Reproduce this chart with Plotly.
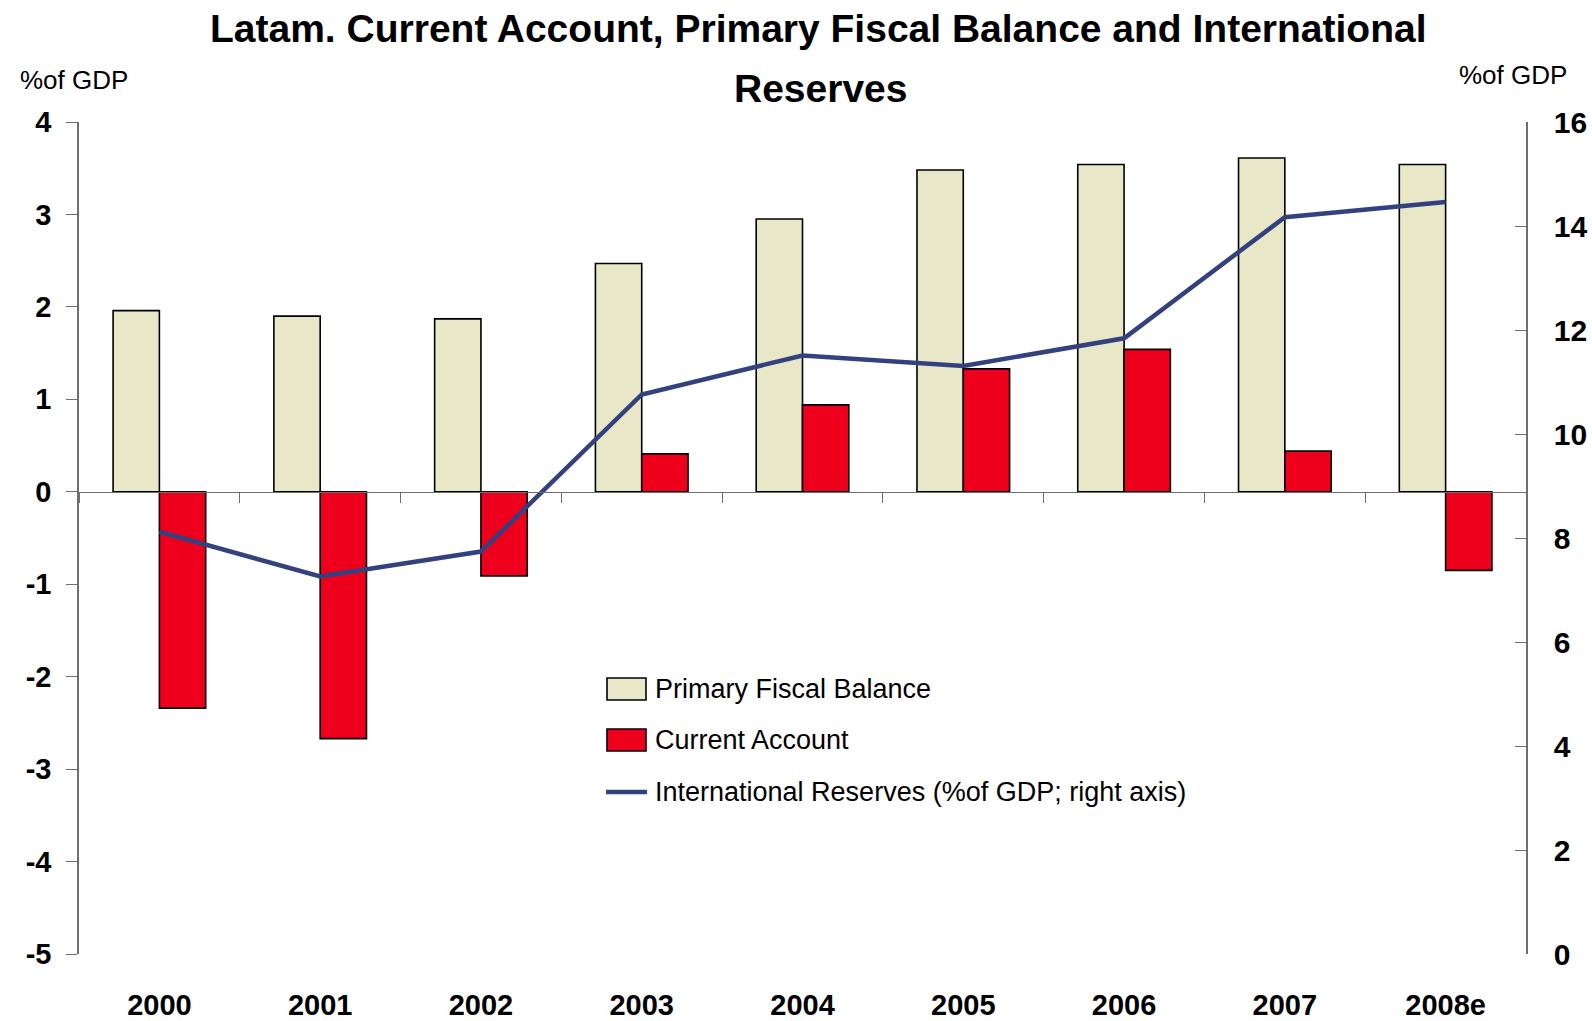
import plotly.graph_objects as go

# Latin America: current account, primary fiscal balance (% of GDP, left axis)
# and international reserves (% of GDP, right axis)
years = ["2000", "2001", "2002", "2003", "2004", "2005", "2006", "2007", "2008e"]
primary_fiscal_balance = [1.96, 1.90, 1.87, 2.47, 2.95, 3.48, 3.54, 3.61, 3.54]
current_account = [-2.34, -2.67, -0.91, 0.41, 0.94, 1.33, 1.54, 0.44, -0.85]
international_reserves = [8.12, 7.26, 7.74, 10.76, 11.51, 11.31, 11.84, 14.17, 14.46]

left_ticks = [-5, -4, -3, -2, -1, 0, 1, 2, 3, 4]
left_tick_text = ["-5", "-4", "-3", "-2", "-1", "0", "1", "2", "3", "4"]
right_ticks = [0, 2, 4, 6, 8, 10, 12, 14, 16]

FONT = "Liberation Sans, Arial, Helvetica, sans-serif"
BEIGE = "#E8E8C8"
RED = "#EE001C"
NAVY = "#34417F"
AXIS_GREY = "#6E6E6E"

W, H = 1592, 1021
ML, MR, MT, MB = 79, 66, 122, 67
PW, PH = W - ML - MR, H - MT - MB


def px_x(x):
    return (x - ML) / PW


def px_y(y):
    return (H - MB - y) / PH


fig = go.Figure()

fig.add_trace(go.Bar(
    x=years, y=primary_fiscal_balance, name="Primary Fiscal Balance",
    marker=dict(color=BEIGE, line=dict(color="black", width=1.6)),
    xaxis="x", yaxis="y", showlegend=False,
))
fig.add_trace(go.Bar(
    x=years, y=current_account, name="Current Account",
    marker=dict(color=RED, line=dict(color="black", width=1.6)),
    xaxis="x", yaxis="y", showlegend=False,
))
fig.add_trace(go.Scatter(
    x=years, y=international_reserves, mode="lines",
    name="International Reserves (%of GDP; right axis)",
    line=dict(color=NAVY, width=4.5),
    xaxis="x", yaxis="y2", showlegend=False,
))
# helper trace that carries the category axis drawn along the zero line
fig.add_trace(go.Scatter(
    x=years, y=[0] * len(years), mode="markers",
    marker=dict(opacity=0, size=1), hoverinfo="skip",
    xaxis="x2", yaxis="y", showlegend=False,
))

# legend drawn as swatches + labels
legend_rows = [
    ("Primary Fiscal Balance", "bar", BEIGE, 689),
    ("Current Account", "bar", RED, 740),
    ("International Reserves (%of GDP; right axis)", "line", NAVY, 792),
]
shapes = []
annotations = []
for label, kind, color, yc in legend_rows:
    if kind == "bar":
        shapes.append(dict(
            type="rect", xref="paper", yref="paper",
            x0=px_x(607), x1=px_x(646), y0=px_y(yc - 11), y1=px_y(yc + 11),
            fillcolor=color, line=dict(color="black", width=1.6), layer="above",
        ))
    else:
        shapes.append(dict(
            type="line", xref="paper", yref="paper",
            x0=px_x(606), x1=px_x(647), y0=px_y(yc), y1=px_y(yc),
            line=dict(color=color, width=4.5), layer="above",
        ))
    annotations.append(dict(
        text=label, xref="paper", yref="paper",
        x=px_x(653), y=px_y(yc), xanchor="left", yanchor="middle",
        showarrow=False, font=dict(family=FONT, size=27, color="black"),
    ))

# title (two lines) and axis unit labels
annotations += [
    dict(text="Latam. Current Account, Primary Fiscal Balance and International",
         xref="paper", yref="paper", x=px_x(818), y=px_y(28),
         xanchor="center", yanchor="middle", showarrow=False,
         font=dict(family=FONT, size=39, color="black", weight="bold")),
    dict(text="Reserves",
         xref="paper", yref="paper", x=px_x(820), y=px_y(88),
         xanchor="center", yanchor="middle", showarrow=False,
         font=dict(family=FONT, size=39, color="black", weight="bold")),
    dict(text="%of GDP", xref="paper", yref="paper", x=px_x(74), y=px_y(80),
         xanchor="center", yanchor="middle", showarrow=False,
         font=dict(family=FONT, size=26, color="black")),
    dict(text="%of GDP", xref="paper", yref="paper", x=px_x(1513), y=px_y(75),
         xanchor="center", yanchor="middle", showarrow=False,
         font=dict(family=FONT, size=26, color="black")),
]

fig.update_layout(
    width=W, height=H,
    margin=dict(l=ML, r=MR, t=MT, b=MB, pad=0, autoexpand=False),
    paper_bgcolor="white", plot_bgcolor="white",
    barmode="group", bargap=0.424, bargroupgap=0,
    font=dict(family=FONT, color="black"),
    xaxis=dict(
        type="category", categoryorder="array", categoryarray=years,
        range=[-0.5, 8.5], showline=False, showgrid=False, zeroline=False,
        ticks="", ticklabelstandoff=31, automargin=False,
        tickfont=dict(family=FONT, size=29, color="black", weight="bold"),
    ),
    xaxis2=dict(
        type="category", categoryorder="array", categoryarray=years,
        range=[-0.5, 8.5], overlaying="x", anchor="free", position=5 / 9,
        showline=True, linecolor=AXIS_GREY, linewidth=1.2,
        showgrid=False, zeroline=False, automargin=False,
        ticks="outside", tickson="boundaries", ticklen=10, tickwidth=1.2,
        tickcolor=AXIS_GREY, showticklabels=False,
    ),
    yaxis=dict(
        range=[-5, 4], tickmode="array", tickvals=left_ticks,
        ticktext=left_tick_text, automargin=False,
        showline=True, linecolor=AXIS_GREY, linewidth=1.5,
        showgrid=False, zeroline=False,
        ticks="outside", ticklen=11, tickwidth=1.2, tickcolor=AXIS_GREY,
        ticklabelstandoff=9,
        tickfont=dict(family=FONT, size=29, color="black", weight="bold"),
    ),
    yaxis2=dict(
        range=[0, 16], tickmode="array", tickvals=right_ticks,
        overlaying="y", side="right", anchor="x", automargin=False,
        showline=True, linecolor=AXIS_GREY, linewidth=1.5,
        showgrid=False, zeroline=False,
        ticks="inside", ticklen=11, tickwidth=1.2, tickcolor=AXIS_GREY,
        ticklabelstandoff=20,
        tickfont=dict(family=FONT, size=30, color="black", weight="bold"),
    ),
    shapes=shapes,
    annotations=annotations,
)

fig.write_html("out.html")
